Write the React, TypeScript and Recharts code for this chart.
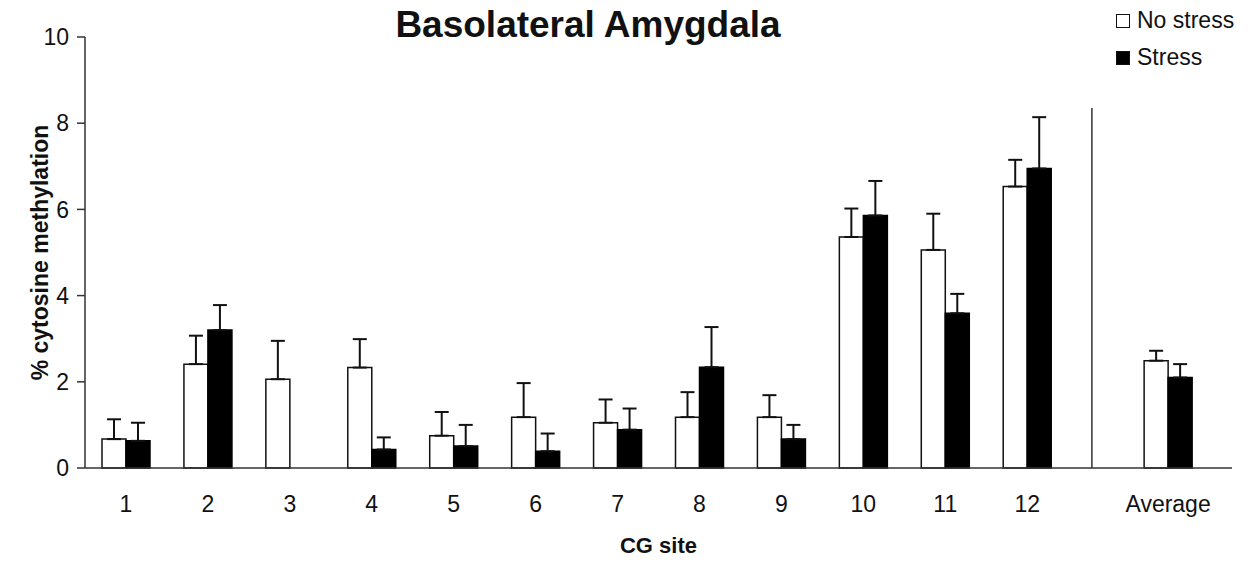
import React from 'react';
import { BarChart, Bar, XAxis, YAxis, ErrorBar, ReferenceLine } from 'recharts';

const FONT = '"Liberation Sans", Arial, sans-serif';

const sites = ['1', '2', '3', '4', '5', '6', '7', '8', '9', '10', '11', '12', 'Average'];
const noStress = [0.67, 2.41, 2.06, 2.33, 0.75, 1.18, 1.05, 1.18, 1.18, 5.36, 5.06, 6.53, 2.49];
const noStressErr = [0.46, 0.66, 0.89, 0.66, 0.55, 0.79, 0.54, 0.58, 0.51, 0.66, 0.84, 0.62, 0.23];
const stress = [0.63, 3.2, 0, 0.43, 0.51, 0.39, 0.89, 2.34, 0.67, 5.86, 3.59, 6.95, 2.1];
const stressErr = [0.42, 0.58, 0, 0.28, 0.49, 0.41, 0.49, 0.93, 0.33, 0.8, 0.45, 1.19, 0.31];
const yTicks = [0, 2, 4, 6, 8, 10];

// the Average group sits a bit apart, behind a divider line
const AVERAGE_POS = 13.72;
const DIVIDER_POS = 12.79;
const DIVIDER_TOP = 8.35;

const data = sites.map((site, i) => ({
    site,
    pos: site === 'Average' ? AVERAGE_POS : i + 1,
    noStress: noStress[i],
    noStressErr: [0, noStressErr[i]],
    stress: stress[i],
    stressErr: [0, stressErr[i]],
}));
const xTicks = data.map(d => d.pos);
const siteLabel = (v: number) => data.find(d => d.pos === v)?.site ?? '';

const legendItems = [
    { name: 'No stress', fill: '#fff' },
    { name: 'Stress', fill: '#000' },
];

const LegendBox = () => (
    <div style={{ position: 'absolute', top: 2, left: 1116, fontFamily: FONT, fontSize: 23, color: '#111' }}>
        {legendItems.map(item => (
            <div key={item.name} style={{ display: 'flex', alignItems: 'center', height: 37 }}>
                <span
                    style={{
                        display: 'inline-block',
                        width: 12,
                        height: 12,
                        border: '1.5px solid #111',
                        background: item.fill,
                        marginRight: 7,
                    }}
                />
                <span>{item.name}</span>
            </div>
        ))}
    </div>
);

const App: React.FC = () => {
    return (
        <div style={{ position: 'absolute', left: 0, top: 0, width: 1259, height: 563, background: '#fff' }}>
            <BarChart
                width={1259}
                height={563}
                data={data}
                margin={{ top: 37, right: 27, left: 0, bottom: 0 }}
                barGap={0}
                style={{ fontFamily: FONT }}
            >
                <XAxis
                    dataKey="pos"
                    type="number"
                    domain={[0.5, 14.5]}
                    ticks={xTicks}
                    interval={0}
                    tickFormatter={siteLabel}
                    tickLine={false}
                    tickSize={0}
                    tickMargin={28}
                    height={95}
                    axisLine={{ stroke: '#333', strokeWidth: 1.5 }}
                    tick={{ fill: '#111', fontSize: 23, fontFamily: FONT }}
                    label={{
                        value: 'CG site',
                        position: 'insideBottom',
                        offset: 10,
                        fill: '#111',
                        fontSize: 22,
                        fontWeight: 'bold',
                        fontFamily: FONT,
                    }}
                />
                <YAxis
                    domain={[0, 10]}
                    ticks={yTicks}
                    width={85}
                    tickSize={8}
                    tickMargin={8}
                    axisLine={{ stroke: '#333', strokeWidth: 1.5 }}
                    tickLine={{ stroke: '#333', strokeWidth: 1.5 }}
                    tick={{ fill: '#111', fontSize: 23, fontFamily: FONT }}
                    label={{
                        value: '% cytosine methylation',
                        angle: -90,
                        position: 'center',
                        dx: -3,
                        fill: '#111',
                        fontSize: 23,
                        fontWeight: 'bold',
                        fontFamily: FONT,
                    }}
                />
                <ReferenceLine
                    segment={[{ x: DIVIDER_POS, y: 0 }, { x: DIVIDER_POS, y: DIVIDER_TOP }]}
                    stroke="#333"
                    strokeWidth={1.5}
                />
                <Bar
                    dataKey="noStress"
                    name="No stress"
                    fill="#fff"
                    stroke="#111"
                    strokeWidth={1.5}
                    barSize={24}
                    isAnimationActive={false}
                >
                    <ErrorBar dataKey="noStressErr" width={7} stroke="#111" strokeWidth={2} direction="y" />
                </Bar>
                <Bar
                    dataKey="stress"
                    name="Stress"
                    fill="#000"
                    stroke="#000"
                    strokeWidth={1.5}
                    barSize={24}
                    isAnimationActive={false}
                >
                    <ErrorBar dataKey="stressErr" width={7} stroke="#111" strokeWidth={2} direction="y" />
                </Bar>
            </BarChart>
            <div
                style={{
                    position: 'absolute',
                    left: 338,
                    top: 6,
                    width: 500,
                    textAlign: 'center',
                    fontFamily: FONT,
                    fontWeight: 'bold',
                    fontSize: 37,
                    lineHeight: '37px',
                    color: '#111',
                }}
            >
                Basolateral Amygdala
            </div>
            <LegendBox />
        </div>
    );
};

export default App;
